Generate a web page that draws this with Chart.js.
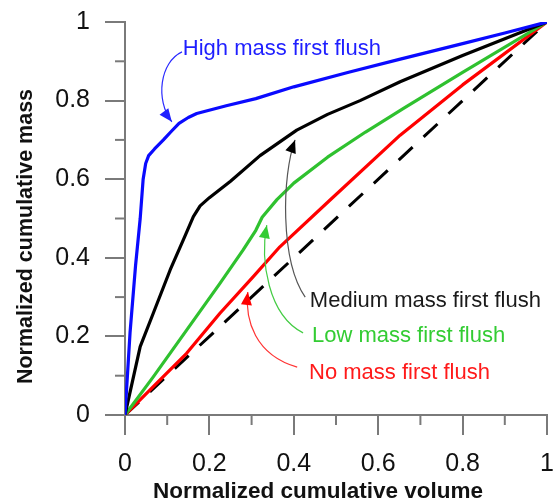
<!DOCTYPE html>
<html>
<head>
<meta charset="utf-8">
<script src="https://cdn.jsdelivr.net/npm/chart.js@4.4.1/dist/chart.umd.min.js"></script>
<style>
  html, body { margin: 0; padding: 0; background: #fff; }
  #wrap { width: 553px; height: 499px; position: relative; }
</style>
</head>
<body>
<div id="wrap"><canvas id="c"></canvas></div>
<script>
// ---- Data ----
const highVolume   = [0, 0.012, 0.025, 0.036, 0.043, 0.049, 0.056, 0.07, 0.091, 0.11, 0.128, 0.15, 0.17, 0.24, 0.31, 0.4, 0.53, 0.65, 0.8, 0.9, 1];
const highMass     = [0, 0.21, 0.38, 0.5, 0.6, 0.64, 0.66, 0.677, 0.70, 0.722, 0.742, 0.757, 0.767, 0.787, 0.805, 0.835, 0.872, 0.905, 0.945, 0.972, 1];

const mediumVolume = [0, 0.036, 0.067, 0.107, 0.14, 0.162, 0.178, 0.2, 0.25, 0.32, 0.407, 0.48, 0.557, 0.652, 0.8, 1];
const mediumMass   = [0, 0.174, 0.259, 0.369, 0.45, 0.505, 0.532, 0.553, 0.595, 0.66, 0.725, 0.765, 0.80, 0.848, 0.915, 1];

const lowVolume    = [0, 0.067, 0.146, 0.225, 0.28, 0.31, 0.325, 0.36, 0.4, 0.48, 0.57, 0.66, 0.8, 1];
const lowMass      = [0, 0.097, 0.216, 0.335, 0.42, 0.47, 0.503, 0.548, 0.59, 0.656, 0.72, 0.78, 0.872, 1];

const noVolume     = [0, 0.067, 0.146, 0.225, 0.304, 0.367, 0.486, 0.652, 0.8, 1];
const noMass       = [0, 0.072, 0.157, 0.259, 0.352, 0.428, 0.547, 0.712, 0.84, 1];

const equalVolume  = [0, 1];
const equalMass    = [0, 1];

const seriesNames  = ['High mass first flush', 'Medium mass first flush', 'Low mass first flush', 'No mass first flush'];
const xTickValues  = [0, 0.2, 0.4, 0.6, 0.8, 1];
const yTickValues  = [0, 0.2, 0.4, 0.6, 0.8, 1];
const minorTickValues = [0.1, 0.3, 0.5, 0.7, 0.9];

// ---- helpers ----
const pts = (xs, ys) => xs.map((x, i) => ({x: x, y: ys[i]}));
const FONT = "Arial, 'Liberation Sans', Helvetica, sans-serif";
const AXIS_GRAY = '#7a7a7a';
const fmt = v => String(Number(Number(v).toFixed(1)));

// Annotations (text + curved arrows), positions in data units
const annotations = [
  { text: seriesNames[0], color: '#1f1fff', lineColor: '#2a2aff', headColor: '#1f1fff', at: [0.137, 0.916],
    arrow: [[0.135, 0.924], [0.083, 0.898], [0.071, 0.802], [0.111, 0.746]] },
  { text: seriesNames[1], color: '#1a1a1a', lineColor: '#555555', headColor: '#000000', at: [0.438, 0.275],
    arrow: [[0.427, 0.300], [0.367, 0.394], [0.372, 0.610], [0.403, 0.700]] },
  { text: seriesNames[2], color: '#33cc33', lineColor: '#44cc44', headColor: '#33cc33', at: [0.443, 0.186],
    arrow: [[0.422, 0.209], [0.339, 0.254], [0.320, 0.394], [0.336, 0.483]] },
  { text: seriesNames[3], color: '#ff1a1a', lineColor: '#ff3333', headColor: '#ff0000', at: [0.436, 0.092],
    arrow: [[0.408, 0.122], [0.308, 0.153], [0.284, 0.242], [0.291, 0.313]] }
];

const minorTicksPlugin = {
  id: 'minorTicks',
  afterDraw(chart) {
    const {ctx, scales: {x, y}} = chart;
    ctx.save();
    ctx.strokeStyle = AXIS_GRAY;
    ctx.lineWidth = 2;
    minorTickValues.forEach(v => {
      const px = x.getPixelForValue(v);
      ctx.beginPath(); ctx.moveTo(px, x.top); ctx.lineTo(px, x.top + 10); ctx.stroke();
      const py = y.getPixelForValue(v);
      ctx.beginPath(); ctx.moveTo(y.right, py); ctx.lineTo(y.right - 10, py); ctx.stroke();
    });
    ctx.restore();
  }
};

const annotationPlugin = {
  id: 'flushAnnotations',
  afterDatasetsDraw(chart) {
    const {ctx, scales: {x, y}} = chart;
    const P = p => [x.getPixelForValue(p[0]), y.getPixelForValue(p[1])];
    ctx.save();
    annotations.forEach(a => {
      const [p0, c1, c2, p3] = a.arrow.map(P);
      ctx.strokeStyle = a.lineColor;
      ctx.lineWidth = 1.2;
      ctx.beginPath();
      ctx.moveTo(p0[0], p0[1]);
      ctx.bezierCurveTo(c1[0], c1[1], c2[0], c2[1], p3[0], p3[1]);
      ctx.stroke();
      let dx = p3[0] - c2[0], dy = p3[1] - c2[1];
      const len = Math.hypot(dx, dy); dx /= len; dy /= len;
      const L = 13, W = 5.5;
      const bx = p3[0] - dx * L, by = p3[1] - dy * L;
      ctx.fillStyle = a.headColor;
      ctx.beginPath();
      ctx.moveTo(p3[0], p3[1]);
      ctx.lineTo(bx - dy * W, by + dx * W);
      ctx.lineTo(bx + dy * W, by - dx * W);
      ctx.closePath();
      ctx.fill();
      const t = P(a.at);
      ctx.fillStyle = a.color;
      ctx.font = '22px ' + FONT;
      ctx.textAlign = 'left';
      ctx.textBaseline = 'alphabetic';
      ctx.fillText(a.text, t[0], t[1]);
    });
    ctx.restore();
  }
};

// shift axis titles to where the reference has them
const titleShiftPlugin = {
  id: 'titleShift',
  afterLayout(chart) {
    const shifts = {x: [-18, 6], y: [0, 18]};
    Object.keys(shifts).forEach(id => {
      const s = chart.scales[id];
      if (s && !s._shiftPatched) {
        const orig = s.drawTitle;
        s.drawTitle = function () {
          this.ctx.save();
          this.ctx.translate(shifts[id][0], shifts[id][1]);
          orig.call(this);
          this.ctx.restore();
        };
        s._shiftPatched = true;
      }
    });
  }
};

const zeroPad = s => { s.paddingTop = 0; s.paddingBottom = 0; s.paddingLeft = 0; s.paddingRight = 0; };

const lineDs = (label, xs, ys, color, extra) => Object.assign({
  label: label,
  data: pts(xs, ys),
  borderColor: color,
  backgroundColor: color,
  borderWidth: 3.2,
  pointRadius: 0,
  fill: false,
  tension: 0,
  borderJoinStyle: 'round',
  borderCapStyle: 'round'
}, extra || {});

new Chart(document.getElementById('c'), {
  type: 'line',
  data: {
    datasets: [
      lineDs(seriesNames[0], highVolume, highMass, '#0a0aff'),
      lineDs(seriesNames[1], mediumVolume, mediumMass, '#000000'),
      lineDs(seriesNames[2], lowVolume, lowMass, '#2fc12f'),
      lineDs(seriesNames[3], noVolume, noMass, '#ff0000'),
      lineDs('1:1 line', equalVolume, equalMass, '#000000', {borderDash: [19, 15], borderWidth: 3, borderCapStyle: 'butt'})
    ]
  },
  options: {
    responsive: true,
    maintainAspectRatio: false,
    animation: false,
    layout: { padding: { top: 22, right: 6, left: 0, bottom: 0 } },
    plugins: { legend: { display: false }, tooltip: { enabled: false }, title: { display: false } },
    scales: {
      x: {
        type: 'linear', min: 0, max: 1,
        afterBuildTicks: s => { s.ticks = xTickValues.map(v => ({value: v})); },
        afterFit: s => { s.height = 84; zeroPad(s); },
        ticks: { color: '#111', font: { family: FONT, size: 25 }, padding: 14, maxRotation: 0, autoSkip: false, callback: fmt },
        grid: { display: true, drawOnChartArea: false, drawTicks: true, tickLength: 20, color: AXIS_GRAY, lineWidth: 2 },
        border: { display: true, color: AXIS_GRAY, width: 2 },
        title: { display: true, text: 'Normalized cumulative volume', color: '#111',
                 font: { family: FONT, size: 22.5, weight: 'bold' }, padding: { top: 0, bottom: 0 } }
      },
      y: {
        type: 'linear', min: 0, max: 1,
        afterBuildTicks: s => { s.ticks = yTickValues.map(v => ({value: v})); },
        afterFit: s => { s.width = 125; zeroPad(s); },
        ticks: { color: '#111', font: { family: FONT, size: 25 }, padding: 15, autoSkip: false, callback: fmt },
        grid: { display: true, drawOnChartArea: false, drawTicks: true, tickLength: 20, color: AXIS_GRAY, lineWidth: 2 },
        border: { display: true, color: AXIS_GRAY, width: 2 },
        title: { display: true, text: 'Normalized cumulative mass', color: '#111',
                 font: { family: FONT, size: 21.5, weight: 'bold' }, padding: { top: 13, bottom: 0 } }
      }
    }
  },
  plugins: [minorTicksPlugin, annotationPlugin, titleShiftPlugin]
});
</script>
</body>
</html>
